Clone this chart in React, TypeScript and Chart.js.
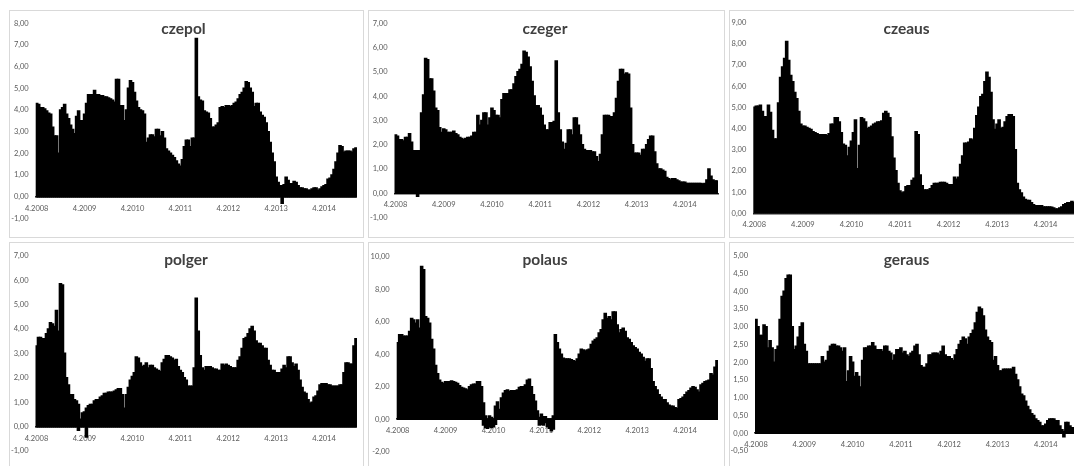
import { useEffect, useRef } from "react";
import { Chart, registerables } from "chart.js";

Chart.register(...registerables);

// Half-month periods from 1.4.2008 to 1.12.2014
const FIRST_YEAR = 2008;
const FIRST_MONTH = 4;
const PERIOD_COUNT = 161;
const PERIODS: string[] = Array.from({ length: PERIOD_COUNT }, (_, k) => {
  const m = FIRST_MONTH - 1 + Math.floor(k / 2);
  const year = FIRST_YEAR + Math.floor(m / 12);
  const month = (m % 12) + 1;
  return `${k % 2 ? 16 : 1}.${month}.${year}`;
});

const YEAR_TICKS = ["4.2008", "4.2009", "4.2010", "4.2011", "4.2012", "4.2013", "4.2014"];

type V = number | [number, number];

// Spread series; a pair marks a period whose values dip below zero and rise again
const CZEPOL: V[] = [
  4.3, 4.25, 4.1, 4.1, 4.05, 3.95, 3.85, 3.8, 3.2, 2.8,
  2.8, 2.0, 4.0, 4.1, 4.25, 3.8, 3.6, 3.3, 3.1, 2.9,
  3.7, 3.95, 3.5, 3.5, 3.8, 4.3, 4.7, 4.7, 4.7, 4.9,
  4.7, 4.7, 4.65, 4.65, 4.6, 4.6, 4.55, 4.5, 4.45, 4.35,
  5.4, 5.4, 4.2, 4.2, 3.5, 4.0, 5.0, 5.35, 5.25, 4.8,
  4.4, 4.1, 4.0, 3.95, 3.8, 2.5, 2.7, 2.85, 2.85, 2.75,
  3.1, 3.1, 2.8, 3.0, 2.7, 2.2, 2.1, 2.0, 1.9, 1.8,
  1.65, 1.5, 1.4, 1.7, 2.3, 2.6, 2.6, 2.3, 2.7, 2.7,
  7.3, 4.6, 4.45, 4.4, 3.95, 3.9, 3.85, 3.6, 3.2, 3.2,
  3.3, 3.4, 4.1, 4.15, 4.1, 4.2, 4.2, 4.15, 4.2, 4.3,
  4.35, 4.5, 4.7, 4.8, 5.0, 5.3, 5.25, 5.0, 4.8, 4.15,
  4.3, 4.3, 3.9, 3.75, 3.65, 3.4, 3.0, 2.5, 2.0, 1.6,
  0.9, 0.65, 0.5, [-0.3, 0.5], 0.55, 0.9, 0.75, 0.6, 0.6, 0.7,
  0.65, 0.5, 0.4, 0.4, 0.35, 0.35, 0.3, 0.3, 0.35, 0.4,
  0.4, 0.3, 0.35, 0.45, 0.5, 0.55, 0.8, 0.85, 1.0, 1.25,
  1.6, 2.0, 2.35, 2.3, 2.05, 2.1, 2.1, 2.1, 2.05, 2.2,
  2.25,
];

const CZEGER: V[] = [
  2.4, 2.35, 2.2, 2.2, 2.15, 2.3, 2.3, 2.45, 2.1, 1.75,
  1.75, [-0.12, 1.75], 1.75, 3.3, 4.05, 5.55, 5.5, 4.7, 4.7, 4.2,
  3.5, 3.4, 2.7, 2.5, 2.65, 2.6, 2.5, 2.5, 2.5, 2.55,
  2.45, 2.4, 2.3, 2.25, 2.2, 2.25, 2.3, 2.3, 2.35, 2.5,
  2.5, 3.2, 2.8, 3.0, 3.3, 3.3, 2.8, 3.1, 3.5, 3.4,
  3.2, 3.2, 3.1, 3.85, 4.1, 4.1, 4.1, 4.25, 4.25, 4.5,
  4.8, 5.0, 5.1, 5.3, 5.85, 5.8, 5.6, 5.2, 4.6, 4.0,
  3.6, 3.6, 3.5, 3.2, 2.8, 2.6, 2.6, 2.9, 2.9, 2.95,
  5.45, 3.3, 2.6, 2.1, 1.8, 2.05, 2.6, 2.6, 2.4, 3.1,
  3.1, 2.8, 2.4, 2.0, 1.8, 1.75, 1.75, 1.75, 1.7, 1.7,
  1.5, 1.3, 1.6, 2.4, 3.2, 3.2, 3.2, 3.15, 3.15, 3.3,
  3.9, 4.6, 5.1, 5.1, 4.9, 4.95, 4.9, 3.5, 2.0, 1.65,
  1.65, 1.65, 1.55, 1.8, 1.8, 2.0, 2.2, 2.35, 2.35, 1.7,
  1.2, 1.0, 1.0, 0.95, 0.9, 0.65, 0.6, 0.55, 0.6, 0.6,
  0.55, 0.5, 0.45, 0.45, 0.45, 0.4, 0.4, 0.4, 0.4, 0.4,
  0.4, 0.4, 0.4, 0.38, 0.4, 0.55, 1.0, 0.7, 0.55, 0.5,
  0.5,
];

const CZEAUS: V[] = [
  5.0, 5.05, 5.05, 5.1, 4.8, 4.55, 4.55, 5.1, 4.75, 3.9,
  3.5, 3.5, 5.2, 6.4, 6.9, 7.3, 8.1, 7.2, 6.5, 6.2,
  5.7, 5.4, 4.8, 4.2, 4.1, 4.1, 4.05, 4.0, 3.95, 3.85,
  3.8, 3.75, 3.7, 3.7, 3.7, 3.7, 3.65, 3.75, 4.2, 4.2,
  4.5, 4.5, 4.3, 3.8, 3.25, 3.2, 2.7, 3.1, 3.4, 3.8,
  4.4, 2.1, 3.2, 4.5, 4.45, 4.3, 4.0, 4.05, 4.1, 4.2,
  4.25, 4.3, 4.3, 4.35, 4.7, 4.8, 4.7, 4.5, 3.6, 2.6,
  2.0, 1.4, 1.05, 0.95, 1.0, 1.25, 1.3, 1.3, 1.55, 1.65,
  3.85, 3.7, 1.8, 1.3, 1.1, 1.1, 1.1, 1.15, 1.3, 1.4,
  1.4, 1.4, 1.45, 1.45, 1.45, 1.4, 1.35, 1.35, 1.35, 1.7,
  1.6, 1.7, 2.3, 2.7, 3.3, 3.3, 3.35, 3.5, 3.45, 4.0,
  4.6, 5.0, 5.5, 5.6, 6.2, 6.65, 6.4, 5.7, 4.4, 3.95,
  4.2, 4.4, 4.0, 4.05, 4.3, 4.55, 4.65, 4.65, 4.55, 3.0,
  1.4, 1.1, 0.95, 0.75, 0.65, 0.6, 0.6, 0.5, 0.4, 0.35,
  0.35, 0.35, 0.35, 0.3, 0.3, 0.3, 0.3, 0.28, 0.25, 0.2,
  0.2, 0.25, 0.3, 0.4, 0.45, 0.5, 0.5, 0.55, 0.5, 0.55,
  0.6,
];

const POLGER: V[] = [
  3.3, 3.65, 3.65, 3.6, 3.6, 3.8, 4.0, 4.25, 4.2, 4.1,
  4.75, 3.9, 5.85, 5.8, 3.0, 2.0, 1.7, 1.3, 1.3, 1.1,
  1.05, [-0.15, 0.9], 0.3, 0.55, 0.6, [-0.42, 0.75], 0.85, 0.9, 0.9, 1.05,
  1.1, 1.1, 1.2, 1.25, 1.35, 1.35, 1.4, 1.4, 1.4, 1.45,
  1.5, 1.55, 1.55, 1.3, 0.75, 1.3, 1.6, 1.9, 2.05, 2.2,
  2.85, 2.8, 2.6, 2.45, 2.5, 2.6, 2.4, 2.5, 2.5, 2.4,
  2.35, 2.3, 2.25, 2.6, 2.75, 2.9, 2.9, 2.85, 2.8, 2.7,
  2.75, 2.45, 2.3, 2.2, 2.0, 1.9, 1.65, 1.65, 1.65, 2.4,
  5.25, 3.9, 2.9, 2.4, 2.3, 2.45, 2.45, 2.45, 2.4, 2.35,
  2.35, 2.3, 2.3, 2.55, 2.5, 2.55, 2.5, 2.45, 2.4, 2.4,
  2.4, 2.7, 2.85, 3.2, 3.6, 3.65, 3.8, 4.0, 4.1, 3.9,
  3.5, 3.4, 3.4, 3.3, 3.2, 3.2, 2.7, 2.5, 2.3, 2.3,
  2.2, 2.2, 2.2, 2.35, 2.5, 2.4, 2.85, 2.85, 2.6, 2.45,
  2.55, 2.3, 1.9, 1.6, 1.4, 1.35, 1.1, 0.95, 1.0, 1.2,
  1.25, 1.45, 1.7, 1.75, 1.75, 1.75, 1.7, 1.7, 1.65, 1.65,
  1.65, 1.65, 1.7, 1.7, 2.2, 2.6, 2.6, 2.55, 2.55, 3.3,
  3.6,
];

const POLAUS: V[] = [
  4.7, 5.2, 5.2, 5.1, 5.1, 5.1, 5.4, 6.2, 6.1, 5.9,
  6.1, 5.6, 9.4, 9.2, 6.3, 6.2, 5.9, 4.9, 4.3, 3.3,
  2.8, 2.4, 2.25, 2.2, 2.3, 2.3, 2.3, 2.35, 2.3, 2.25,
  2.2, 2.05, 1.95, 1.9, 1.85, 1.8, 2.0, 2.1, 2.15, 2.15,
  2.3, 2.3, 2.0, [-0.35, 1.0], [-0.5, 0.2], -0.55, [-0.45, 0.2], [-0.5, 0.1], -0.45, [-0.3, 0.8],
  1.05, 0.6, 1.3, 1.6, 1.75, 1.8, 1.7, 1.75, 1.75, 1.75,
  1.8, 1.95, 2.0, 2.0, 2.1, 2.4, 2.45, 2.0, 1.5, 1.1,
  0.5, [-0.35, 0.1], [-0.3, 0.3], [-0.35, 0.15], [-0.2, 0.15], -0.45, -0.55, -0.7, [-0.6, 0.2], 5.2,
  4.7, 4.3, 4.0, 3.75, 3.7, 3.7, 3.7, 3.65, 3.6, 3.55,
  3.7, 4.0, 4.3, 4.25, 4.2, 4.25, 4.3, 4.6, 4.8, 4.9,
  5.0, 5.3, 5.5, 6.1, 6.5, 6.2, 6.3, 6.1, 6.6, 6.6,
  5.8, 5.3, 5.5, 5.6, 5.4, 5.0, 4.9, 4.7, 4.5, 4.4,
  4.3, 4.1, 4.0, 3.8, 3.55, 3.7, 3.7, 3.1, 2.3, 2.0,
  1.8, 1.5, 1.35, 1.2, 1.2, 1.0, 0.85, 0.8, 0.8, 0.7,
  0.65, 1.2, 1.25, 1.35, 1.5, 1.65, 1.75, 1.9, 2.0, 1.95,
  1.8, 1.65, 2.1, 2.2, 2.3, 2.35, 2.4, 2.8, 2.7, 3.2,
  3.6,
];

const GERAUS: V[] = [
  3.2, 3.0, 2.75, 2.75, 3.05, 3.0, 2.4, 2.6, 2.4, 2.0,
  2.35, 2.45, 3.2, 3.85, 4.0, 4.35, 4.45, 4.45, 3.0, 2.35,
  2.45, 2.7, 3.0, 3.1, 2.5, 2.3, 1.95, 1.95, 1.95, 1.95,
  1.95, 1.95, 1.95, 2.15, 2.0, 2.05, 2.3, 2.45, 2.5, 2.5,
  2.45, 2.45, 2.4, 2.3, 2.4, 1.45, 1.75, 2.15, 2.0, 1.6,
  1.7, 1.6, 1.3, 2.05, 2.4, 2.4, 2.45, 2.45, 2.55, 2.45,
  2.35, 2.35, 2.35, 2.3, 2.45, 2.45, 2.3, 2.25, 2.05, 2.2,
  2.35, 2.35, 2.4, 2.25, 2.3, 2.2, 2.15, 2.25, 2.3, 2.45,
  2.5, 2.2, 1.9, 1.85, 1.85, 1.95, 2.2, 2.2, 2.25, 2.25,
  2.25, 2.2, 2.3, 2.45, 2.2, 2.15, 2.15, 2.1, 2.05, 2.2,
  2.35, 2.5, 2.6, 2.7, 2.65, 2.5, 2.7, 2.8, 2.9, 3.1,
  3.4, 3.55, 3.5, 3.3, 2.9, 2.7, 2.6, 2.55, 2.05, 2.15,
  1.9, 1.75, 1.75, 1.8, 1.8, 1.8, 1.8, 1.8, 1.85, 1.65,
  1.5, 1.3, 1.1, 1.05, 0.9, 0.75, 0.65, 0.55, 0.5, 0.4,
  0.35, 0.3, 0.2, 0.2, 0.25, 0.35, 0.4, 0.4, 0.4, 0.35,
  0.35, 0.2, 0.1, [-0.1, 0.05], 0.3, 0.3, 0.2, 0.15, 0.15, 0.15,
  0.15,
];

type PanelSpec = {
  title: string;
  values: V[];
  min: number;
  max: number;
  step: number;
  box: { x: number; y: number; w: number; h: number };
  plot: { l: number; t: number; r: number; b: number };
  titleX: number;
  titleBaseline: number;
};

const PANELS: PanelSpec[] = [
  { title: "czepol", values: CZEPOL, min: -1, max: 8, step: 1,
    box: { x: 9, y: 10, w: 355, h: 228 }, plot: { l: 35.7, t: 23.3, r: 363, b: 218.4 },
    titleX: 183.5, titleBaseline: 34 },
  { title: "czeger", values: CZEGER, min: -1, max: 7, step: 1,
    box: { x: 368, y: 10, w: 357, h: 228 }, plot: { l: 394.5, t: 23.3, r: 722.5, b: 217.6 },
    titleX: 545, titleBaseline: 34 },
  { title: "czeaus", values: CZEAUS, min: 0, max: 9, step: 1,
    box: { x: 729, y: 10, w: 357, h: 228 }, plot: { l: 753.3, t: 18.3, r: 1081, b: 213.3 },
    titleX: 906.5, titleBaseline: 34 },
  { title: "polger", values: POLGER, min: -1, max: 7, step: 1,
    box: { x: 9, y: 242, w: 355, h: 228 }, plot: { l: 35.5, t: 255.7, r: 362, b: 451 },
    titleX: 186, titleBaseline: 265 },
  { title: "polaus", values: POLAUS, min: -2, max: 10, step: 2,
    box: { x: 368, y: 242, w: 357, h: 228 }, plot: { l: 396.7, t: 256.7, r: 722.7, b: 451.7 },
    titleX: 545, titleBaseline: 265 },
  { title: "geraus", values: GERAUS, min: -0.5, max: 5, step: 0.5,
    box: { x: 729, y: 242, w: 357, h: 228 }, plot: { l: 755, t: 255.7, r: 1082, b: 451 },
    titleX: 906.5, titleBaseline: 265 },
];

const TICK_FONT = { family: "Lato, 'Open Sans', sans-serif", size: 7.5 };
const TICK_COLOR = "#595959";

const formatValue = (v: number) => v.toFixed(2).replace(".", ",");

const yearTick = (index: number) => {
  const label = PERIODS[index] ?? "";
  const monthYear = label.slice(2);
  return label.startsWith("1.") && YEAR_TICKS.includes(monthYear) ? monthYear : "";
};

function SpreadPanel({ spec }: { spec: PanelSpec }) {
  const ref = useRef<HTMLCanvasElement>(null);
  const cx = spec.box.x + 1;
  const cy = spec.box.y + 1;
  const cw = spec.box.w - 2;
  const ch = spec.box.h - 2;

  useEffect(() => {
    if (!ref.current) return;
    const yWidth = spec.plot.l - cx;
    const chart = new Chart(ref.current, {
      type: "bar",
      data: {
        labels: PERIODS,
        datasets: [
          {
            label: spec.title,
            data: spec.values as any,
            backgroundColor: "#000000",
            borderWidth: 0,
            barPercentage: 1,
            categoryPercentage: 1,
            inflateAmount: 0.8,
          },
        ],
      },
      options: {
        animation: false,
        responsive: false,
        maintainAspectRatio: false,
        events: [],
        layout: {
          padding: {
            left: 0,
            top: spec.plot.t - cy,
            right: Math.max(0, cx + cw - spec.plot.r),
            bottom: cy + ch - spec.plot.b,
          },
        },
        plugins: {
          legend: { display: false },
          tooltip: { enabled: false },
          title: { display: false },
        },
        scales: {
          x: {
            position: { y: 0 } as any,
            z: 1,
            grid: { display: false, drawTicks: false },
            border: { display: true, color: "#2b2b2b", width: 1.5 },
            ticks: {
              autoSkip: false,
              maxRotation: 0,
              minRotation: 0,
              padding: 7,
              font: TICK_FONT,
              color: TICK_COLOR,
              callback: (_v: any, i: number) => yearTick(i),
            },
            afterFit: (s: any) => {
              s.height = 0;
            },
          },
          y: {
            min: spec.min,
            max: spec.max,
            grid: { display: false, drawTicks: false },
            border: { display: false },
            ticks: {
              stepSize: spec.step,
              padding: 7,
              font: TICK_FONT,
              color: TICK_COLOR,
              callback: (v: any) => formatValue(Number(v)),
            },
            afterFit: (s: any) => {
              s.width = yWidth;
            },
          },
        },
      },
    });
    return () => chart.destroy();
  }, [spec]);

  return (
    <div
      style={{
        position: "absolute",
        left: spec.box.x,
        top: spec.box.y,
        width: spec.box.w,
        height: spec.box.h,
        border: "1px solid #d9d9d9",
        boxSizing: "border-box",
        background: "#ffffff",
      }}
    >
      <canvas
        ref={ref}
        width={cw}
        height={ch}
        style={{ position: "absolute", left: 0, top: 0, width: cw, height: ch }}
      />
      <div
        style={{
          position: "absolute",
          left: spec.titleX - cx - 100,
          width: 200,
          top: spec.titleBaseline - cy - 14.4,
          textAlign: "center",
          fontFamily: "Lato, 'Open Sans', sans-serif",
          fontWeight: 700,
          fontSize: 15.5,
          lineHeight: "17px",
          color: "#404040",
          pointerEvents: "none",
        }}
      >
        {spec.title}
      </div>
    </div>
  );
}

export default function App() {
  return (
    <div
      style={{
        position: "fixed",
        left: 0,
        top: 0,
        width: 1074,
        height: 466,
        overflow: "hidden",
        background: "#ffffff",
      }}
    >
      {PANELS.map((p) => (
        <SpreadPanel key={p.title} spec={p} />
      ))}
    </div>
  );
}
